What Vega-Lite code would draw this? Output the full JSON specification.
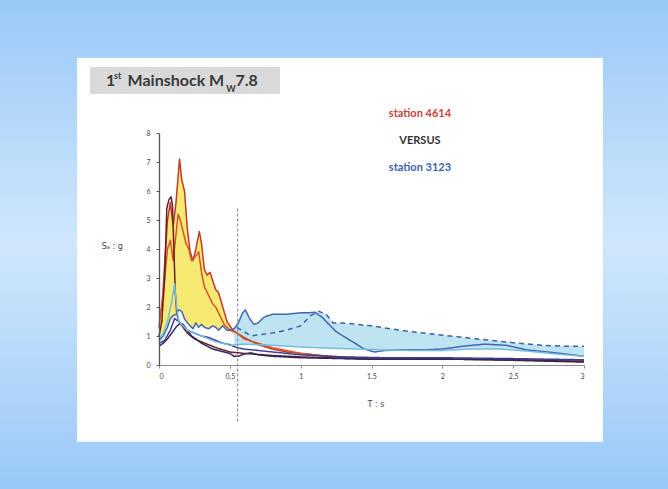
{
  "$schema": "https://vega.github.io/schema/vega-lite/v6.json",
  "width": 425,
  "height": 232,
  "autosize": {"type": "none"},
  "padding": {"left": 159, "top": 133, "right": 84, "bottom": 124},
  "background": "#a6d0f8",
  "config": {
    "view": {"stroke": null},
    "font": "Lato"
  },
  "datasets": {
    "bg": [{"T": -1.3, "T2": 3.8, "v": -4.6, "v2": 13.0}],
    "panel": [{"T": -0.579, "T2": 3.134, "v": -2.65, "v2": 10.586}],
    "titlebox": [{"T": -0.487, "T2": 0.854, "v": 9.345, "v2": 10.276}],
    "titleBig": [
      {"T": -0.374, "v": 9.62, "txt": "1"},
      {"T": -0.222, "v": 9.62, "txt": "Mainshock M"},
      {"T": 0.54, "v": 9.62, "txt": "7.8"}
    ],
    "titleSmall": [
      {"T": -0.318, "v": 9.86, "txt": "st"},
      {"T": 0.475, "v": 9.42, "txt": "W"}
    ],
    "legendText": [
      {"T": 1.842, "v": 8.655, "txt": "station 4614", "who": "a"},
      {"T": 1.842, "v": 7.724, "txt": "VERSUS", "who": "b"},
      {"T": 1.842, "v": 6.793, "txt": "station 3123", "who": "c"}
    ],
    "axisTitles": [
      {"T": -0.33, "v": 4.07, "txt": "Sₐ : g"},
      {"T": 1.532, "v": -1.379, "txt": "T : s"}
    ],
    "vline": [{"T": 0.555, "v": -1.95, "v2": 5.4}],
    "yellow": [
      {"T": 0.0, "lo": 1.0, "hi": 1.9},
      {"T": 0.02, "lo": 1.1, "hi": 1.9},
      {"T": 0.04, "lo": 1.2, "hi": 3.5},
      {"T": 0.06, "lo": 1.3, "hi": 5.0},
      {"T": 0.08, "lo": 1.5, "hi": 5.6},
      {"T": 0.1, "lo": 1.7, "hi": 4.8},
      {"T": 0.12, "lo": 1.75, "hi": 5.6},
      {"T": 0.145, "lo": 1.9, "hi": 7.1},
      {"T": 0.16, "lo": 1.85, "hi": 6.4},
      {"T": 0.18, "lo": 1.6, "hi": 6.0},
      {"T": 0.2, "lo": 1.45, "hi": 4.7},
      {"T": 0.22, "lo": 1.35, "hi": 3.9},
      {"T": 0.24, "lo": 1.25, "hi": 3.6},
      {"T": 0.26, "lo": 1.45, "hi": 4.0},
      {"T": 0.285, "lo": 1.35, "hi": 4.6},
      {"T": 0.3, "lo": 1.4, "hi": 4.2},
      {"T": 0.32, "lo": 1.3, "hi": 3.3},
      {"T": 0.34, "lo": 1.28, "hi": 3.1},
      {"T": 0.36, "lo": 1.3, "hi": 3.2},
      {"T": 0.38, "lo": 1.35, "hi": 2.9},
      {"T": 0.4, "lo": 1.3, "hi": 2.6},
      {"T": 0.42, "lo": 1.2, "hi": 2.5},
      {"T": 0.45, "lo": 1.3, "hi": 2.0},
      {"T": 0.48, "lo": 1.2, "hi": 1.5},
      {"T": 0.52, "lo": 1.2, "hi": 1.22}
    ],
    "bluefill": [
      {"T": 0.53, "lo": 0.68, "hi": 1.25},
      {"T": 0.56, "lo": 0.7, "hi": 1.45},
      {"T": 0.59, "lo": 0.72, "hi": 1.8},
      {"T": 0.61, "lo": 0.72, "hi": 1.9},
      {"T": 0.64, "lo": 0.71, "hi": 1.6},
      {"T": 0.67, "lo": 0.7, "hi": 1.4},
      {"T": 0.7, "lo": 0.7, "hi": 1.45},
      {"T": 0.74, "lo": 0.69, "hi": 1.65},
      {"T": 0.8, "lo": 0.68, "hi": 1.75},
      {"T": 0.9, "lo": 0.65, "hi": 1.75},
      {"T": 1.0, "lo": 0.62, "hi": 1.8},
      {"T": 1.07, "lo": 0.61, "hi": 1.8},
      {"T": 1.13, "lo": 0.6, "hi": 1.85},
      {"T": 1.18, "lo": 0.58, "hi": 1.75},
      {"T": 1.23, "lo": 0.58, "hi": 1.45},
      {"T": 1.3, "lo": 0.57, "hi": 1.45},
      {"T": 1.4, "lo": 0.55, "hi": 1.4},
      {"T": 1.5, "lo": 0.54, "hi": 1.35},
      {"T": 1.7, "lo": 0.51, "hi": 1.2},
      {"T": 1.9, "lo": 0.5, "hi": 1.08},
      {"T": 2.1, "lo": 0.52, "hi": 0.98},
      {"T": 2.3, "lo": 0.55, "hi": 0.87},
      {"T": 2.5, "lo": 0.52, "hi": 0.77},
      {"T": 2.7, "lo": 0.43, "hi": 0.68},
      {"T": 3.0, "lo": 0.3, "hi": 0.65}
    ],
    "lines": [
      {"s": "R1", "T": 0.0, "v": 1.9}, {"s": "R1", "T": 0.02, "v": 1.9}, {"s": "R1", "T": 0.04, "v": 3.5}, {"s": "R1", "T": 0.06, "v": 5.0}, {"s": "R1", "T": 0.08, "v": 5.6}, {"s": "R1", "T": 0.1, "v": 4.8}, {"s": "R1", "T": 0.12, "v": 5.6}, {"s": "R1", "T": 0.145, "v": 7.1}, {"s": "R1", "T": 0.16, "v": 6.4}, {"s": "R1", "T": 0.18, "v": 6.0}, {"s": "R1", "T": 0.2, "v": 4.7}, {"s": "R1", "T": 0.22, "v": 3.9}, {"s": "R1", "T": 0.24, "v": 3.6}, {"s": "R1", "T": 0.26, "v": 4.0}, {"s": "R1", "T": 0.285, "v": 4.6}, {"s": "R1", "T": 0.3, "v": 4.2}, {"s": "R1", "T": 0.32, "v": 3.3}, {"s": "R1", "T": 0.34, "v": 3.1}, {"s": "R1", "T": 0.36, "v": 3.2}, {"s": "R1", "T": 0.38, "v": 2.9}, {"s": "R1", "T": 0.4, "v": 2.6}, {"s": "R1", "T": 0.42, "v": 2.5}, {"s": "R1", "T": 0.45, "v": 2.0}, {"s": "R1", "T": 0.48, "v": 1.5}, {"s": "R1", "T": 0.52, "v": 1.2}, {"s": "R1", "T": 0.55, "v": 1.1}, {"s": "R1", "T": 0.6, "v": 0.95}, {"s": "R1", "T": 0.7, "v": 0.7}, {"s": "R1", "T": 0.8, "v": 0.55}, {"s": "R1", "T": 0.9, "v": 0.45}, {"s": "R1", "T": 1.0, "v": 0.4}, {"s": "R1", "T": 1.2, "v": 0.3}, {"s": "R1", "T": 1.5, "v": 0.22}, {"s": "R1", "T": 2.0, "v": 0.22}, {"s": "R1", "T": 2.5, "v": 0.2}, {"s": "R1", "T": 3.0, "v": 0.15},

      {"s": "R2", "T": 0.0, "v": 1.3}, {"s": "R2", "T": 0.03, "v": 2.5}, {"s": "R2", "T": 0.06, "v": 4.0}, {"s": "R2", "T": 0.08, "v": 4.3}, {"s": "R2", "T": 0.1, "v": 3.6}, {"s": "R2", "T": 0.12, "v": 4.5}, {"s": "R2", "T": 0.135, "v": 5.2}, {"s": "R2", "T": 0.15, "v": 5.0}, {"s": "R2", "T": 0.17, "v": 4.6}, {"s": "R2", "T": 0.19, "v": 4.2}, {"s": "R2", "T": 0.21, "v": 4.0}, {"s": "R2", "T": 0.23, "v": 3.6}, {"s": "R2", "T": 0.25, "v": 3.7}, {"s": "R2", "T": 0.28, "v": 3.9}, {"s": "R2", "T": 0.3, "v": 3.2}, {"s": "R2", "T": 0.32, "v": 2.7}, {"s": "R2", "T": 0.34, "v": 2.5}, {"s": "R2", "T": 0.36, "v": 2.3}, {"s": "R2", "T": 0.38, "v": 2.1}, {"s": "R2", "T": 0.4, "v": 2.0}, {"s": "R2", "T": 0.43, "v": 1.7}, {"s": "R2", "T": 0.46, "v": 1.4}, {"s": "R2", "T": 0.5, "v": 1.2}, {"s": "R2", "T": 0.55, "v": 1.1}, {"s": "R2", "T": 0.6, "v": 0.9}, {"s": "R2", "T": 0.7, "v": 0.75}, {"s": "R2", "T": 0.8, "v": 0.6}, {"s": "R2", "T": 0.9, "v": 0.5}, {"s": "R2", "T": 1.0, "v": 0.4}, {"s": "R2", "T": 1.1, "v": 0.35}, {"s": "R2", "T": 1.2, "v": 0.28}, {"s": "R2", "T": 1.5, "v": 0.2}, {"s": "R2", "T": 2.0, "v": 0.2}, {"s": "R2", "T": 2.5, "v": 0.18}, {"s": "R2", "T": 3.0, "v": 0.13},

      {"s": "R3", "T": 0.0, "v": 1.0}, {"s": "R3", "T": 0.02, "v": 1.5}, {"s": "R3", "T": 0.04, "v": 3.0}, {"s": "R3", "T": 0.055, "v": 5.4}, {"s": "R3", "T": 0.07, "v": 5.7}, {"s": "R3", "T": 0.085, "v": 5.8}, {"s": "R3", "T": 0.095, "v": 5.5}, {"s": "R3", "T": 0.105, "v": 4.0}, {"s": "R3", "T": 0.115, "v": 2.5}, {"s": "R3", "T": 0.125, "v": 1.8}, {"s": "R3", "T": 0.14, "v": 1.5}, {"s": "R3", "T": 0.17, "v": 1.3}, {"s": "R3", "T": 0.2, "v": 1.1}, {"s": "R3", "T": 0.25, "v": 0.9}, {"s": "R3", "T": 0.3, "v": 0.8}, {"s": "R3", "T": 0.4, "v": 0.6}, {"s": "R3", "T": 0.5, "v": 0.45}, {"s": "R3", "T": 0.6, "v": 0.4}, {"s": "R3", "T": 0.8, "v": 0.33}, {"s": "R3", "T": 1.0, "v": 0.28}, {"s": "R3", "T": 1.5, "v": 0.2}, {"s": "R3", "T": 2.0, "v": 0.22}, {"s": "R3", "T": 2.5, "v": 0.16}, {"s": "R3", "T": 3.0, "v": 0.1},

      {"s": "N1", "T": 0.0, "v": 0.65}, {"s": "N1", "T": 0.03, "v": 0.75}, {"s": "N1", "T": 0.06, "v": 0.9}, {"s": "N1", "T": 0.09, "v": 1.1}, {"s": "N1", "T": 0.12, "v": 1.3}, {"s": "N1", "T": 0.15, "v": 1.45}, {"s": "N1", "T": 0.17, "v": 1.4}, {"s": "N1", "T": 0.2, "v": 1.2}, {"s": "N1", "T": 0.23, "v": 1.0}, {"s": "N1", "T": 0.26, "v": 0.9}, {"s": "N1", "T": 0.3, "v": 0.75}, {"s": "N1", "T": 0.34, "v": 0.65}, {"s": "N1", "T": 0.38, "v": 0.55}, {"s": "N1", "T": 0.42, "v": 0.5}, {"s": "N1", "T": 0.46, "v": 0.45}, {"s": "N1", "T": 0.5, "v": 0.4}, {"s": "N1", "T": 0.53, "v": 0.3}, {"s": "N1", "T": 0.56, "v": 0.3}, {"s": "N1", "T": 0.6, "v": 0.38}, {"s": "N1", "T": 0.65, "v": 0.42}, {"s": "N1", "T": 0.7, "v": 0.35}, {"s": "N1", "T": 0.8, "v": 0.3}, {"s": "N1", "T": 1.0, "v": 0.25}, {"s": "N1", "T": 1.5, "v": 0.2}, {"s": "N1", "T": 2.0, "v": 0.2}, {"s": "N1", "T": 2.5, "v": 0.18}, {"s": "N1", "T": 3.0, "v": 0.12},

      {"s": "N2", "T": 0.0, "v": 0.75}, {"s": "N2", "T": 0.04, "v": 0.85}, {"s": "N2", "T": 0.08, "v": 1.2}, {"s": "N2", "T": 0.11, "v": 1.6}, {"s": "N2", "T": 0.14, "v": 1.5}, {"s": "N2", "T": 0.17, "v": 1.35}, {"s": "N2", "T": 0.2, "v": 1.2}, {"s": "N2", "T": 0.25, "v": 1.1}, {"s": "N2", "T": 0.3, "v": 1.0}, {"s": "N2", "T": 0.35, "v": 0.95}, {"s": "N2", "T": 0.4, "v": 0.85}, {"s": "N2", "T": 0.45, "v": 0.75}, {"s": "N2", "T": 0.5, "v": 0.7}, {"s": "N2", "T": 0.55, "v": 0.6}, {"s": "N2", "T": 0.6, "v": 0.55}, {"s": "N2", "T": 0.7, "v": 0.5}, {"s": "N2", "T": 0.8, "v": 0.45}, {"s": "N2", "T": 1.0, "v": 0.35}, {"s": "N2", "T": 1.3, "v": 0.28}, {"s": "N2", "T": 1.6, "v": 0.25}, {"s": "N2", "T": 2.0, "v": 0.25}, {"s": "N2", "T": 2.5, "v": 0.22}, {"s": "N2", "T": 3.0, "v": 0.18},

      {"s": "B", "T": 0.0, "v": 0.85}, {"s": "B", "T": 0.03, "v": 1.0}, {"s": "B", "T": 0.06, "v": 1.3}, {"s": "B", "T": 0.08, "v": 1.6}, {"s": "B", "T": 0.1, "v": 1.7}, {"s": "B", "T": 0.12, "v": 1.75}, {"s": "B", "T": 0.14, "v": 1.9}, {"s": "B", "T": 0.16, "v": 1.85}, {"s": "B", "T": 0.18, "v": 1.6}, {"s": "B", "T": 0.2, "v": 1.45}, {"s": "B", "T": 0.22, "v": 1.35}, {"s": "B", "T": 0.24, "v": 1.25}, {"s": "B", "T": 0.26, "v": 1.45}, {"s": "B", "T": 0.28, "v": 1.3}, {"s": "B", "T": 0.3, "v": 1.4}, {"s": "B", "T": 0.32, "v": 1.3}, {"s": "B", "T": 0.35, "v": 1.25}, {"s": "B", "T": 0.38, "v": 1.35}, {"s": "B", "T": 0.4, "v": 1.3}, {"s": "B", "T": 0.42, "v": 1.2}, {"s": "B", "T": 0.45, "v": 1.35}, {"s": "B", "T": 0.48, "v": 1.2}, {"s": "B", "T": 0.5, "v": 1.2}, {"s": "B", "T": 0.53, "v": 1.25}, {"s": "B", "T": 0.56, "v": 1.45}, {"s": "B", "T": 0.59, "v": 1.8}, {"s": "B", "T": 0.61, "v": 1.9}, {"s": "B", "T": 0.64, "v": 1.6}, {"s": "B", "T": 0.67, "v": 1.4}, {"s": "B", "T": 0.7, "v": 1.45}, {"s": "B", "T": 0.74, "v": 1.65}, {"s": "B", "T": 0.8, "v": 1.75}, {"s": "B", "T": 0.9, "v": 1.75}, {"s": "B", "T": 1.0, "v": 1.8}, {"s": "B", "T": 1.05, "v": 1.8}, {"s": "B", "T": 1.1, "v": 1.82}, {"s": "B", "T": 1.15, "v": 1.65}, {"s": "B", "T": 1.25, "v": 1.15}, {"s": "B", "T": 1.35, "v": 0.85}, {"s": "B", "T": 1.45, "v": 0.55}, {"s": "B", "T": 1.52, "v": 0.45}, {"s": "B", "T": 1.6, "v": 0.5}, {"s": "B", "T": 1.75, "v": 0.53}, {"s": "B", "T": 1.9, "v": 0.53}, {"s": "B", "T": 2.0, "v": 0.55}, {"s": "B", "T": 2.15, "v": 0.65}, {"s": "B", "T": 2.3, "v": 0.72}, {"s": "B", "T": 2.45, "v": 0.68}, {"s": "B", "T": 2.6, "v": 0.52}, {"s": "B", "T": 2.8, "v": 0.42}, {"s": "B", "T": 3.0, "v": 0.3},

      {"s": "BD", "T": 0.55, "v": 1.3}, {"s": "BD", "T": 0.6, "v": 1.15}, {"s": "BD", "T": 0.65, "v": 1.0}, {"s": "BD", "T": 0.72, "v": 1.05}, {"s": "BD", "T": 0.8, "v": 1.1}, {"s": "BD", "T": 0.9, "v": 1.2}, {"s": "BD", "T": 1.0, "v": 1.35}, {"s": "BD", "T": 1.07, "v": 1.7}, {"s": "BD", "T": 1.13, "v": 1.85}, {"s": "BD", "T": 1.18, "v": 1.75}, {"s": "BD", "T": 1.23, "v": 1.45}, {"s": "BD", "T": 1.3, "v": 1.45}, {"s": "BD", "T": 1.4, "v": 1.4}, {"s": "BD", "T": 1.5, "v": 1.35}, {"s": "BD", "T": 1.7, "v": 1.2}, {"s": "BD", "T": 1.9, "v": 1.08}, {"s": "BD", "T": 2.1, "v": 0.98}, {"s": "BD", "T": 2.3, "v": 0.87}, {"s": "BD", "T": 2.5, "v": 0.77}, {"s": "BD", "T": 2.7, "v": 0.68}, {"s": "BD", "T": 2.85, "v": 0.65}, {"s": "BD", "T": 3.0, "v": 0.65},

      {"s": "BL", "T": 0.0, "v": 0.9}, {"s": "BL", "T": 0.03, "v": 1.1}, {"s": "BL", "T": 0.06, "v": 1.5}, {"s": "BL", "T": 0.09, "v": 2.2}, {"s": "BL", "T": 0.11, "v": 2.8}, {"s": "BL", "T": 0.125, "v": 2.0}, {"s": "BL", "T": 0.14, "v": 1.5}, {"s": "BL", "T": 0.17, "v": 1.35}, {"s": "BL", "T": 0.2, "v": 1.2}, {"s": "BL", "T": 0.25, "v": 1.1}, {"s": "BL", "T": 0.3, "v": 1.0}, {"s": "BL", "T": 0.35, "v": 0.9}, {"s": "BL", "T": 0.4, "v": 0.8}, {"s": "BL", "T": 0.45, "v": 0.75}, {"s": "BL", "T": 0.5, "v": 0.68}, {"s": "BL", "T": 0.55, "v": 0.7}, {"s": "BL", "T": 0.6, "v": 0.72}, {"s": "BL", "T": 0.7, "v": 0.7}, {"s": "BL", "T": 0.8, "v": 0.68}, {"s": "BL", "T": 0.9, "v": 0.65}, {"s": "BL", "T": 1.0, "v": 0.62}, {"s": "BL", "T": 1.2, "v": 0.58}, {"s": "BL", "T": 1.4, "v": 0.55}, {"s": "BL", "T": 1.6, "v": 0.52}, {"s": "BL", "T": 1.8, "v": 0.5}, {"s": "BL", "T": 2.0, "v": 0.5}, {"s": "BL", "T": 2.2, "v": 0.55}, {"s": "BL", "T": 2.4, "v": 0.55}, {"s": "BL", "T": 2.6, "v": 0.48}, {"s": "BL", "T": 2.8, "v": 0.38}, {"s": "BL", "T": 3.0, "v": 0.3}
    ]
  },
  "layer": [
    {
      "data": {"name": "bg"},
      "mark": {"type": "rect", "fill": {"gradient": "linear", "x1": 0, "y1": 0, "x2": 0, "y2": 1, "stops": [{"offset": 0, "color": "#97c7f7"}, {"offset": 0.5, "color": "#cfe7fc"}, {"offset": 1, "color": "#97c7f7"}]}},
      "encoding": {
        "x": {"field": "T", "type": "quantitative", "scale": {"domain": [0, 3], "nice": false, "zero": false}, "axis": null},
        "x2": {"field": "T2"},
        "y": {"field": "v", "type": "quantitative", "scale": {"domain": [0, 8], "nice": false, "zero": false}, "axis": null},
        "y2": {"field": "v2"}
      }
    },
    {
      "data": {"name": "panel"},
      "mark": {"type": "rect", "fill": "#ffffff"},
      "encoding": {
        "x": {"field": "T", "type": "quantitative", "axis": null}, "x2": {"field": "T2"},
        "y": {"field": "v", "type": "quantitative", "axis": null}, "y2": {"field": "v2"}
      }
    },
    {
      "data": {"name": "titlebox"},
      "mark": {"type": "rect", "fill": "#d9d9d9"},
      "encoding": {
        "x": {"field": "T", "type": "quantitative", "axis": null}, "x2": {"field": "T2"},
        "y": {"field": "v", "type": "quantitative", "axis": null}, "y2": {"field": "v2"}
      }
    },
    {
      "data": {"name": "titleBig"},
      "mark": {"type": "text", "align": "left", "baseline": "alphabetic", "fontSize": 16, "fontWeight": "bold", "font": "Lato", "color": "#3a3a3a"},
      "encoding": {
        "x": {"field": "T", "type": "quantitative", "axis": null},
        "y": {"field": "v", "type": "quantitative", "axis": null},
        "text": {"field": "txt"}
      }
    },
    {
      "data": {"name": "titleSmall"},
      "mark": {"type": "text", "align": "left", "baseline": "alphabetic", "fontSize": 9, "fontWeight": "bold", "font": "Lato", "color": "#3a3a3a"},
      "encoding": {
        "x": {"field": "T", "type": "quantitative", "axis": null},
        "y": {"field": "v", "type": "quantitative", "axis": null},
        "text": {"field": "txt"}
      }
    },
    {
      "data": {"name": "yellow"},
      "mark": {"type": "area", "color": "#f6ea72", "opacity": 1},
      "encoding": {
        "x": {"field": "T", "type": "quantitative", "axis": null},
        "y": {"field": "lo", "type": "quantitative", "axis": null},
        "y2": {"field": "hi"}
      }
    },
    {
      "data": {"name": "bluefill"},
      "mark": {"type": "area", "color": "#bfe4f1", "opacity": 1},
      "encoding": {
        "x": {"field": "T", "type": "quantitative", "axis": null},
        "y": {"field": "lo", "type": "quantitative", "axis": null},
        "y2": {"field": "hi"}
      }
    },
    {
      "data": {"name": "lines"},
      "mark": {"type": "line", "strokeJoin": "round"},
      "encoding": {
        "x": {"field": "T", "type": "quantitative", "axis": null},
        "y": {"field": "v", "type": "quantitative", "axis": null},
        "detail": {"field": "s"},
        "color": {"field": "s", "type": "nominal", "legend": null, "scale": {"domain": ["BL", "N2", "N1", "R3", "R2", "R1", "B", "BD"], "range": ["#74bde0", "#3b3f8c", "#2c2860", "#6e1c22", "#d4532e", "#c0392b", "#4466b0", "#3f5fa8"]}},
        "strokeWidth": {"field": "s", "type": "nominal", "legend": null, "scale": {"domain": ["BL", "N2", "N1", "R3", "R2", "R1", "B", "BD"], "range": [1.5, 1.5, 1.6, 2, 1.6, 2.2, 1.8, 2]}},
        "strokeDash": {"field": "s", "type": "nominal", "legend": null, "scale": {"domain": ["BL", "N2", "N1", "R3", "R2", "R1", "B", "BD"], "range": [[1, 0], [1, 0], [1, 0], [1, 0], [1, 0], [1, 0], [1, 0], [5, 4]]}}
      }
    },
    {
      "data": {"name": "vline"},
      "mark": {"type": "rule", "color": "#808080", "strokeWidth": 1, "strokeDash": [3, 2]},
      "encoding": {
        "x": {"field": "T", "type": "quantitative", "axis": null},
        "y": {"field": "v", "type": "quantitative", "axis": null},
        "y2": {"field": "v2"}
      }
    },
    {
      "data": {"name": "legendText"},
      "mark": {"type": "text", "align": "center", "baseline": "middle", "fontSize": 11, "fontWeight": "bold", "font": "Lato"},
      "encoding": {
        "x": {"field": "T", "type": "quantitative", "axis": null},
        "y": {"field": "v", "type": "quantitative", "axis": null},
        "text": {"field": "txt"},
        "color": {"field": "who", "type": "nominal", "legend": null, "scale": {"domain": ["a", "b", "c"], "range": ["#c8413a", "#333333", "#3d5fa8"]}}
      }
    },
    {
      "data": {"name": "axisTitles"},
      "mark": {"type": "text", "align": "center", "baseline": "middle", "fontSize": 8, "font": "DejaVu Sans", "color": "#444444"},
      "encoding": {
        "x": {"field": "T", "type": "quantitative", "axis": null},
        "y": {"field": "v", "type": "quantitative", "axis": null},
        "text": {"field": "txt"}
      }
    },
    {
      "data": {"name": "vline"},
      "mark": {"type": "point", "opacity": 0},
      "encoding": {
        "x": {"field": "T", "type": "quantitative", "axis": {"orient": "bottom", "title": null, "values": [0, 0.5, 1, 1.5, 2, 2.5, 3], "format": "~g", "labelPadding": 4, "grid": false, "zindex": 1, "domainColor": "#8c8c8c", "tickColor": "#8c8c8c", "tickSize": 3, "labelFontSize": 7, "labelColor": "#444444", "labelFont": "Lato"}},
        "y": {"field": "v", "type": "quantitative", "axis": {"orient": "left", "title": null, "values": [0, 1, 2, 3, 4, 5, 6, 7, 8], "labelPadding": 6, "grid": false, "zindex": 1, "domainColor": "#555555", "domainWidth": 1.3, "tickColor": "#555555", "tickSize": 3, "labelFontSize": 7, "labelColor": "#444444", "labelFont": "Lato"}}
      }
    }
  ],
  "resolve": {"scale": {"color": "independent"}, "axis": {"x": "independent", "y": "independent"}}
}
